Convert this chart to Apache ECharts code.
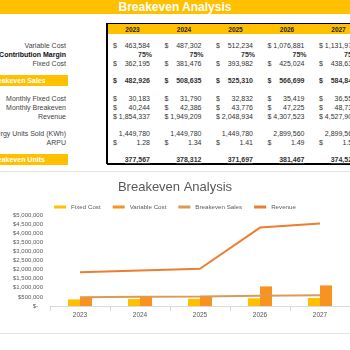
<!DOCTYPE html>
<html>
<head>
<meta charset="utf-8">
<script src="https://cdn.jsdelivr.net/npm/echarts@6/dist/echarts.min.js"></script>
<style>
  body { margin: 0; width: 350px; height: 350px; overflow: hidden; background: #fff; position: relative;
         font-family: 'Liberation Sans', Arial, sans-serif; }
  .t { position: absolute; white-space: nowrap; font-size: 7px; line-height: 9px; height: 9px; color: #333; }
  .r { text-align: right; }
  .c { text-align: center; }
  .b { font-weight: bold; }
  #topbar { position: absolute; left: 0; top: 0; width: 350px; height: 14px; background: #FFC000;
            color: #fff; font-weight: bold; font-size: 12px; line-height: 14px; text-align: center; }
  #thead { position: absolute; left: 107px; top: 23px; width: 250px; height: 10px; background: #FFC000;
           border-top: 1.5px solid #000; }
  #tleft { position: absolute; left: 106px; top: 23px; width: 1.5px; height: 141px; background: #000; }
  #tbottom { position: absolute; left: 107px; top: 163px; width: 250px; height: 1.5px; background: #000; }
  .hl { position: absolute; left: 0; width: 68px; height: 11px; background: #FFC000; }
  #chart { position: absolute; left: 0; top: 171px; width: 350px; height: 161px;
           border-top: 1px solid #e3e3e3; border-bottom: 1px solid #e3e3e3; }
</style>
</head>
<body>
<div id="topbar">Breakeven Analysis</div>
<div id="thead"></div>
<div id="tleft"></div>
<div id="tbottom"></div>
<div id="table"></div>
<div id="chart"></div>
<script>
const years = ['2023', '2024', '2025', '2026', '2027']
const variableCost = [463584, 487302, 512234, 1076881, 1131975]
const contributionMargin = [0.75, 0.75, 0.75, 0.75, 0.75]
const fixedCost = [362195, 381476, 393982, 425024, 438636]
const breakevenSales = [482926, 508635, 525310, 566699, 584848]
const monthlyFixedCost = [30183, 31790, 32832, 35419, 36553]
const monthlyBreakeven = [40244, 42386, 43776, 47225, 48737]
const revenue = [1854337, 1949209, 2048934, 4307523, 4527900]
const energyUnitsSold = [1449780, 1449780, 1449780, 2899560, 2899560]
const arpu = [1.28, 1.34, 1.41, 1.49, 1.56]
const breakevenUnits = [377567, 378312, 371697, 381467, 374523]

const fmt = (v) => v.toLocaleString('en-US')
const fmt2 = (v) => v.toFixed(2)
const pct = (v) => Math.round(v * 100) + '%'

// table rows: label, values, formatter, dollar sign, style
const rows = [
  { label: 'Variable Cost', y: 41, data: variableCost, f: fmt, usd: true },
  { label: 'Contribution Margin', y: 50, data: contributionMargin, f: pct, usd: false, bold: true, pct: true },
  { label: 'Fixed Cost', y: 59, data: fixedCost, f: fmt, usd: true },
  { label: 'Breakeven Sales', y: 76, data: breakevenSales, f: fmt, usd: true, bold: true, hl: true },
  { label: 'Monthly Fixed Cost', y: 94, data: monthlyFixedCost, f: fmt, usd: true },
  { label: 'Monthly Breakeven', y: 103, data: monthlyBreakeven, f: fmt, usd: true },
  { label: 'Revenue', y: 112, data: revenue, f: fmt, usd: true },
  { label: 'Energy Units Sold (KWh)', y: 129, data: energyUnitsSold, f: fmt, usd: false },
  { label: 'ARPU', y: 138, data: arpu, f: fmt2, usd: true },
  { label: 'Breakeven Units', y: 155, data: breakevenUnits, f: fmt, usd: false, bold: true, hl: true, ul: true }
]
const colLeft = [107, 158.5, 210, 261.5, 313]

const table = document.getElementById('table')
const add = (html, cls, style) => {
  const d = document.createElement('div')
  d.className = 't ' + cls
  d.style.cssText = style
  d.innerHTML = html
  table.appendChild(d)
}

years.forEach((yr, i) => {
  add(yr, 'c b', `left:${colLeft[i]}px;width:51px;top:24.5px;color:#222;font-size:6.5px;`)
})

rows.forEach((row) => {
  if (row.hl) {
    const h = document.createElement('div')
    h.className = 'hl'
    h.style.top = (row.y - 1) + 'px'
    table.appendChild(h)
    add(row.label, 'b', `left:-10px;top:${row.y}px;color:#fff;`)
  } else {
    add(row.label, 'r' + (row.bold ? ' b' : ''), `right:${350 - 66}px;top:${row.y}px;color:${row.bold ? '#111' : '#444'};`)
  }
  row.data.forEach((v, i) => {
    const left = colLeft[i]
    if (row.usd) add('$', row.bold ? 'b' : '', `left:${left + 6}px;top:${row.y}px;`)
    const txt = row.ul ? `<span style="text-decoration:underline">${row.f(v)}</span>` : row.f(v)
    const right = left + (row.pct ? 45 : 43)
    add(txt, 'r' + (row.bold ? ' b' : ''), `right:${350 - right}px;top:${row.y}px;`)
  })
})

const chart = echarts.init(document.getElementById('chart'))
chart.setOption({
  animation: false,
  title: {
    text: 'Breakeven Analysis',
    left: 'center',
    top: 4,
    textStyle: { color: '#595959', fontSize: 13, fontWeight: 'normal', fontFamily: 'Liberation Sans' }
  },
  legend: {
    left: 'center',
    top: 27,
    itemWidth: 12,
    itemHeight: 3,
    itemGap: 12,
    icon: 'rect',
    textStyle: { color: '#595959', fontSize: 6.2, fontFamily: 'Liberation Sans' },
    data: ['Fixed Cost', 'Variable Cost', 'Breakeven Sales', 'Revenue']
  },
  grid: { left: 50, right: -2, top: 43, bottom: 27 },
  xAxis: {
    type: 'category',
    data: years,
    axisLine: { lineStyle: { color: '#d9d9d9' } },
    axisTick: { show: true, lineStyle: { color: '#d9d9d9' } },
    axisLabel: { color: '#595959', fontSize: 6.5, margin: 6 }
  },
  yAxis: {
    type: 'value',
    min: 0,
    max: 5000000,
    interval: 500000,
    splitLine: { show: false },
    axisLine: { show: false },
    axisLabel: {
      color: '#595959',
      fontSize: 6,
      margin: 7,
      formatter: (v) => (v === 0 ? '$-   ' : '$' + fmt(v))
    }
  },
  series: [
    { name: 'Fixed Cost', type: 'bar', data: fixedCost, barWidth: 12, barGap: '0%', itemStyle: { color: '#FFC000' } },
    { name: 'Variable Cost', type: 'bar', data: variableCost, barWidth: 12, itemStyle: { color: '#F7931E' } },
    { name: 'Breakeven Sales', type: 'line', data: breakevenSales, symbol: 'none',
      lineStyle: { color: '#DB9A55', width: 2 }, itemStyle: { color: '#DB9A55' } },
    { name: 'Revenue', type: 'line', data: revenue, symbol: 'none',
      lineStyle: { color: '#ED7D31', width: 2 }, itemStyle: { color: '#ED7D31' } }
  ]
})
</script>
</body>
</html>
